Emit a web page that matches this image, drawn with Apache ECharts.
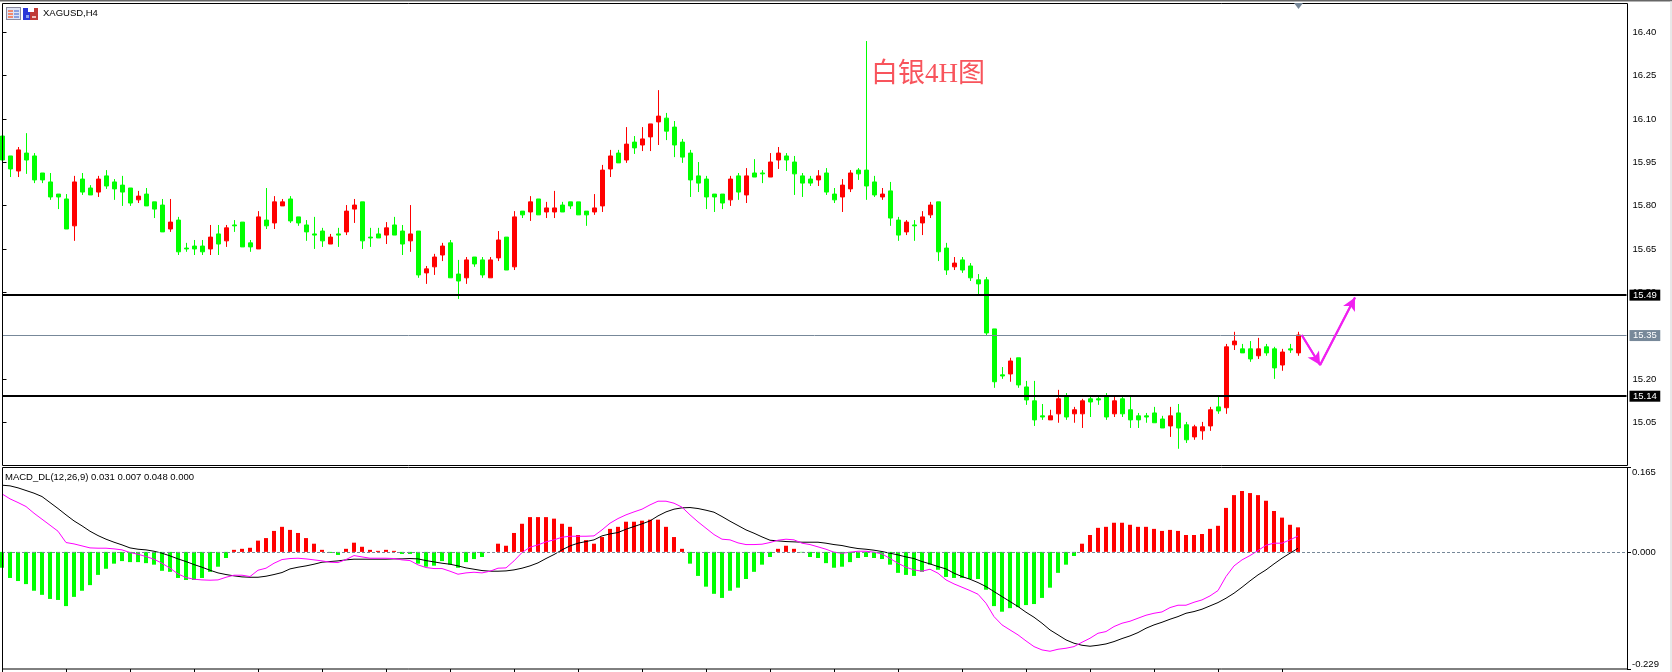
<!DOCTYPE html>
<html>
<head>
<meta charset="utf-8">
<style>html,body{margin:0;padding:0;background:#fff;overflow:hidden}#c{width:1672px;height:672px}</style>
<script src="https://cdn.jsdelivr.net/npm/echarts@6/dist/echarts.min.js"></script>
</head>
<body>
<div id="c"></div>
<script>
// XAGUSD 4-hour candles, oldest first
const opens = [
16.041,15.972,15.920,15.982,15.972,15.913,15.882,15.840,15.823,15.730,
15.892,15.861,15.847,15.903,15.882,15.871,15.861,15.820,15.840,15.813,
15.802,15.719,15.750,15.653,15.660,15.660,15.650,15.702,15.678,15.733,
15.743,15.671,15.650,15.750,15.740,15.799,15.823,15.761,15.733,15.702,
15.712,15.667,15.702,15.709,15.788,15.813,15.691,15.702,15.698,15.733,
15.712,15.678,15.712,15.567,15.588,15.629,15.671,15.563,15.550,15.622,
15.612,15.550,15.619,15.691,15.588,15.781,15.778,15.823,15.778,15.778,
15.802,15.813,15.813,15.781,15.778,15.799,15.927,15.982,15.958,16.020,
16.010,16.038,16.090,16.103,16.072,16.020,15.982,15.903,15.892,15.840,
15.840,15.820,15.903,15.837,15.913,15.913,15.899,15.958,15.972,15.951,
15.903,15.892,15.889,15.913,15.840,15.830,15.858,15.923,15.923,15.882,
15.830,15.851,15.750,15.709,15.733,15.740,15.768,15.813,15.653,15.588,
15.612,15.591,15.543,15.543,15.373,15.214,15.217,15.273,15.172,15.124,
15.072,15.058,15.079,15.138,15.079,15.079,15.131,15.131,15.138,15.079,
15.131,15.093,15.072,15.072,15.082,15.061,15.037,15.082,15.041,14.999,
15.020,15.037,15.103,15.100,15.318,15.304,15.304,15.280,15.311,15.304,
15.248,15.304,15.290];
const closes = [
15.958,15.927,15.993,15.958,15.889,15.889,15.830,15.830,15.719,15.882,
15.847,15.837,15.892,15.868,15.858,15.847,15.809,15.833,15.799,15.788,
15.709,15.743,15.640,15.650,15.650,15.640,15.691,15.667,15.723,15.730,
15.657,15.657,15.761,15.730,15.813,15.813,15.747,15.740,15.709,15.698,
15.678,15.691,15.698,15.781,15.802,15.678,15.688,15.688,15.723,15.698,
15.667,15.702,15.560,15.581,15.622,15.660,15.550,15.539,15.612,15.598,
15.560,15.612,15.681,15.577,15.761,15.768,15.813,15.768,15.792,15.792,
15.778,15.799,15.768,15.768,15.792,15.923,15.972,15.948,16.013,16.000,
16.031,16.083,16.110,16.058,16.010,15.968,15.889,15.878,15.830,15.830,
15.809,15.892,15.847,15.903,15.899,15.910,15.951,15.982,15.958,15.910,
15.878,15.878,15.903,15.847,15.820,15.871,15.913,15.910,15.868,15.837,
15.840,15.757,15.698,15.743,15.730,15.761,15.802,15.640,15.577,15.601,
15.577,15.550,15.529,15.359,15.190,15.210,15.262,15.179,15.127,15.058,
15.068,15.072,15.131,15.068,15.093,15.124,15.120,15.127,15.068,15.124,
15.079,15.058,15.058,15.068,15.048,15.030,15.072,15.030,14.989,15.034,
15.034,15.093,15.089,15.311,15.331,15.290,15.269,15.304,15.290,15.238,
15.293,15.300,15.352];
const highs = [
16.041,15.972,16.003,16.051,15.982,15.913,15.913,15.840,15.840,15.903,
15.913,15.871,15.903,15.923,15.892,15.903,15.861,15.851,15.861,15.813,
15.823,15.823,15.761,15.671,15.681,15.681,15.733,15.733,15.733,15.750,
15.743,15.681,15.781,15.861,15.833,15.823,15.833,15.761,15.750,15.761,
15.723,15.702,15.723,15.802,15.823,15.813,15.723,15.723,15.743,15.761,
15.733,15.802,15.712,15.591,15.633,15.671,15.681,15.612,15.622,15.622,
15.622,15.622,15.712,15.691,15.781,15.781,15.833,15.823,15.813,15.851,
15.813,15.813,15.813,15.781,15.840,15.941,15.993,15.993,16.072,16.041,
16.072,16.083,16.200,16.121,16.093,16.031,15.993,15.951,15.903,15.840,
15.840,15.903,15.913,15.930,15.961,15.923,15.982,16.003,15.982,15.972,
15.913,15.903,15.923,15.930,15.861,15.892,15.923,15.930,16.370,15.903,
15.861,15.882,15.761,15.750,15.750,15.781,15.813,15.813,15.671,15.622,
15.622,15.601,15.563,15.553,15.373,15.241,15.273,15.273,15.193,15.193,
15.113,15.093,15.162,15.151,15.103,15.131,15.138,15.138,15.151,15.141,
15.141,15.141,15.082,15.082,15.103,15.072,15.103,15.113,15.051,15.041,
15.051,15.103,15.138,15.321,15.363,15.321,15.331,15.342,15.321,15.311,
15.304,15.321,15.363];
const lows = [
15.958,15.899,15.899,15.910,15.878,15.878,15.820,15.788,15.719,15.678,
15.837,15.837,15.830,15.858,15.820,15.799,15.799,15.809,15.799,15.757,
15.709,15.709,15.629,15.640,15.629,15.629,15.629,15.629,15.657,15.709,
15.657,15.640,15.650,15.719,15.719,15.799,15.740,15.730,15.678,15.650,
15.657,15.667,15.657,15.698,15.740,15.650,15.657,15.688,15.667,15.698,
15.629,15.640,15.550,15.529,15.560,15.608,15.550,15.477,15.529,15.588,
15.550,15.550,15.608,15.577,15.577,15.757,15.747,15.768,15.757,15.757,
15.778,15.788,15.768,15.730,15.768,15.778,15.899,15.948,15.948,15.979,
15.989,15.989,16.010,16.027,15.968,15.948,15.830,15.847,15.788,15.778,
15.788,15.799,15.820,15.809,15.899,15.878,15.899,15.927,15.920,15.837,
15.830,15.868,15.868,15.837,15.809,15.778,15.847,15.889,15.820,15.830,
15.820,15.730,15.678,15.698,15.678,15.698,15.757,15.608,15.560,15.577,
15.567,15.539,15.491,15.352,15.169,15.200,15.190,15.169,15.110,15.037,
15.058,15.058,15.048,15.058,15.048,15.030,15.068,15.110,15.058,15.068,
15.068,15.030,15.030,15.048,15.048,15.030,14.999,14.958,14.978,14.989,
14.989,15.020,15.079,15.079,15.300,15.290,15.259,15.269,15.280,15.200,
15.228,15.290,15.280];

// MACD indicator: histogram, main line and signal line
const macdHist = [
-.031,-.051,-.057,-.063,-.076,-.084,-.092,-.094,-.106,-.088,
-.076,-.065,-.045,-.033,-.023,-.018,-.020,-.020,-.022,-.025,
-.037,-.039,-.051,-.055,-.055,-.051,-.039,-.029,-.012,.004,
.006,.008,.022,.027,.041,.049,.043,.037,.027,.016,
.004,-.002,-.006,.006,.018,.010,.004,.002,.004,.002,
-.004,-.004,-.023,-.029,-.027,-.018,-.025,-.031,-.020,-.014,
-.010,0,.016,.012,.037,.055,.068,.068,.068,.065,
.055,.049,.033,.023,.016,.029,.045,.049,.059,.059,
.061,.063,.063,.049,.029,.006,-.023,-.047,-.068,-.082,
-.090,-.076,-.070,-.053,-.039,-.025,-.010,.006,.012,.006,
-.001,-.010,-.012,-.022,-.031,-.029,-.020,-.012,-.010,-.012,
-.014,-.025,-.041,-.045,-.047,-.039,-.025,-.035,-.049,-.051,
-.051,-.053,-.053,-.074,-.106,-.117,-.110,-.108,-.104,-.102,
-.090,-.070,-.041,-.025,-.008,.016,.033,.047,.049,.057,
.057,.053,.049,.049,.045,.041,.043,.041,.033,.033,
.035,.045,.051,.086,.111,.119,.115,.111,.100,.080,
.067,.053,.048];
const macdBlack = [
.1304,.1291,.1252,.1200,.1148,.1082,.0965,.0848,.0724,.0606,
.0509,.0404,.0319,.0248,.0189,.0137,.0078,.0052,.0039,.0013,
-.0026,-.0078,-.0137,-.0189,-.0248,-.0300,-.0359,-.0411,-.0443,-.0469,
-.0489,-.0496,-.0496,-.0476,-.0443,-.0404,-.0333,-.0300,-.0274,-.0241,
-.0202,-.0189,-.0176,-.0156,-.0143,-.0143,-.0143,-.0143,-.0143,-.0137,
-.0137,-.0130,-.0137,-.0170,-.0196,-.0222,-.0241,-.0274,-.0313,-.0339,
-.0365,-.0378,-.0378,-.0372,-.0352,-.0319,-.0274,-.0215,-.0130,-.0052,
.0039,.0117,.0170,.0202,.0235,.0313,.0352,.0378,.0443,.0496,
.0548,.0606,.0704,.0782,.0835,.0861,.0867,.0848,.0815,.0776,
.0691,.0600,.0515,.0430,.0365,.0293,.0228,.0215,.0202,.0196,
.0189,.0189,.0189,.0170,.0143,.0124,.0091,.0065,.0052,.0033,
.0007,-.0026,-.0059,-.0098,-.0130,-.0189,-.0235,-.0287,-.0333,-.0417,
-.0482,-.0535,-.0600,-.0678,-.0776,-.0874,-.0971,-.1069,-.1180,-.1278,
-.1395,-.1526,-.1623,-.1721,-.1786,-.1826,-.1845,-.1826,-.1800,-.1754,
-.1695,-.1643,-.1578,-.1493,-.1428,-.1376,-.1317,-.1265,-.1200,-.1167,
-.1121,-.1056,-.0991,-.0906,-.0808,-.0691,-.0567,-.0450,-.0352,-.0235,
-.0124,-.0026,.007];
const macdMagenta = [
.1134,.1037,.0965,.0887,.0756,.0639,.0522,.0404,.0183,.0156,
.0117,.0078,.0072,.0072,.0059,.0039,-.0013,-.0046,-.0091,-.0143,
-.0222,-.0319,-.0430,-.0502,-.0535,-.0548,-.0554,-.0548,-.0496,-.0456,
-.0456,-.0482,-.0359,-.0319,-.0222,-.0150,-.0130,-.0124,-.0137,-.0156,
-.0176,-.0202,-.0209,-.0150,-.0072,-.0098,-.0124,-.0124,-.0124,-.0130,
-.0156,-.0170,-.0254,-.0306,-.0326,-.0326,-.0378,-.0437,-.0411,-.0398,
-.0411,-.0378,-.0319,-.0313,-.0176,-.0013,.0091,.0137,.0196,.0235,
.0287,.0306,.0306,.0306,.0313,.0430,.0561,.0652,.0724,.0782,
.0835,.0919,.0991,.0991,.0952,.0874,.0724,.0587,.0463,.0339,
.0248,.0235,.0176,.0143,.0143,.0150,.0183,.0228,.0248,.0235,
.0170,.0143,.0098,.0052,-.0007,-.0026,-.0007,.0013,.0013,-.0007,
-.0039,-.0130,-.0222,-.0300,-.0352,-.0378,-.0339,-.0417,-.0548,-.0626,
-.0691,-.0756,-.0828,-.1004,-.1265,-.1428,-.1526,-.1623,-.1741,-.1852,
-.1917,-.1943,-.1904,-.1884,-.1852,-.1767,-.1689,-.1591,-.1558,-.1460,
-.1395,-.1356,-.1297,-.1239,-.1200,-.1174,-.1089,-.1043,-.1043,-.0985,
-.0939,-.0861,-.0756,-.0482,-.0274,-.0156,-.0072,.0026,.0130,.0170,
.0170,.0235,.031];

// Axis ticks and the levels marked on the price pane
const priceTicks = [16.40,16.25,16.10,15.95,15.80,15.65,15.50,15.35,15.20,15.05];
const macdTicks = [0.165,0,-0.229];
const resistanceSupport = [15.49,15.14];
const lastPrice = 15.35;

// Forecast path drawn after the last candle: [bar position, price]
const forecastPath = [[162.4,15.352],[164.7,15.248],[169.06,15.482]];

// Chart window holds room for 204 bar slots, the rest is right-hand shift
const barSlots = Array.from({length:204},(_,i)=>String(i));
const candles = opens.map((o,i)=>[o,closes[i],lows[i],highs[i]]);

const UI_FONT = '"Liberation Sans",Arial,sans-serif';
const RED = '#ff0000', GREEN = '#00ff00', SLATE = '#778899';

const rect = (x,y,w,h,fill) => ({type:'rect',silent:true,shape:{x,y,width:w,height:h},style:{fill}});

const chart = echarts.init(document.getElementById('c'),null,{renderer:'canvas'});
chart.setOption({
  animation:false,
  backgroundColor:'#fff',
  grid:[
    {left:2.5,top:3.5,width:1624,height:462,containLabel:false,outerBoundsMode:'none'},
    {left:2,top:467.5,width:1624,height:201.5,containLabel:false,outerBoundsMode:'none'}
  ],
  xAxis:[
    {type:'category',gridIndex:0,data:barSlots,boundaryGap:false,
     axisLine:{show:false,onZero:false},axisTick:{show:false},axisLabel:{show:false},splitLine:{show:false}},
    {type:'category',gridIndex:1,data:barSlots,boundaryGap:false,position:'bottom',
     axisLine:{show:false,onZero:false},axisLabel:{show:false},splitLine:{show:false},
     axisTick:{show:true,length:3,interval:i=>i%8===0&&i<=160,lineStyle:{color:'#000',width:1}}},
    {type:'value',gridIndex:0,min:0,max:203,show:false,splitLine:{show:false}}
  ],
  yAxis:[
    {type:'value',gridIndex:0,position:'right',offset:1,min:14.9,max:16.5,
     splitLine:{show:false},axisLine:{show:false},
     axisTick:{show:true,length:4,customValues:priceTicks,lineStyle:{color:'#000'}},
     axisLabel:{show:true,customValues:priceTicks,margin:5,color:'#000',
       fontFamily:UI_FONT,fontSize:9.5,formatter:v=>v.toFixed(2)}},
    {type:'value',gridIndex:1,position:'right',offset:1,min:-0.229,max:0.165,
     splitLine:{show:false},axisLine:{show:false},
     axisTick:{show:true,length:4,customValues:macdTicks,lineStyle:{color:'#000'}},
     axisLabel:{show:true,customValues:macdTicks,margin:5,color:'#000',
       fontFamily:UI_FONT,fontSize:9.5,formatter:v=>v.toFixed(3),
       verticalAlignMaxLabel:'bottom',verticalAlignMinLabel:'top'}}
  ],
  series:[
    {type:'candlestick',name:'XAGUSD',xAxisIndex:0,yAxisIndex:0,data:candles,barWidth:4,clip:true,silent:true,
     itemStyle:{color:RED,color0:GREEN,borderColor:RED,borderColor0:GREEN,borderWidth:1},
     markLine:{silent:true,symbol:'none',animation:false,
       data:[
         ...resistanceSupport.map(v=>({yAxis:v,lineStyle:{color:'#000',width:2,type:'solid'},
           label:{backgroundColor:'#000',color:'#fff'}})),
         {yAxis:lastPrice,lineStyle:{color:SLATE,width:1,type:'solid'},
           label:{backgroundColor:SLATE,color:'#fff'}}
       ],
       label:{show:true,position:'end',distance:3,padding:[1,3.5,0,3.5],fontFamily:UI_FONT,fontSize:9.5,
         formatter:p=>p.value.toFixed(2)}}},
    {type:'line',name:'Forecast',xAxisIndex:2,yAxisIndex:0,data:forecastPath,symbol:'none',silent:true,clip:false,z:5,
     lineStyle:{color:'#f020f0',width:2},
     markLine:{silent:true,animation:false,symbol:['none','arrow'],symbolSize:[10,13],
       lineStyle:{color:'#f020f0',width:2,type:'solid'},label:{show:false},
       data:[
         [{coord:forecastPath[0]},{coord:forecastPath[1]}],
         [{coord:forecastPath[1]},{coord:forecastPath[2]}]
       ]}},
    {type:'bar',name:'MACD histogram',xAxisIndex:1,yAxisIndex:1,data:macdHist,barWidth:4,clip:true,silent:true,
     itemStyle:{color:p=>p.value>=0?RED:GREEN},
     markLine:{silent:true,symbol:'none',animation:false,label:{show:false},
       lineStyle:{color:SLATE,width:1,type:[3,2]},data:[{yAxis:0}]}},
    {type:'line',name:'Signal',xAxisIndex:1,yAxisIndex:1,data:macdBlack,symbol:'none',silent:true,z:4,
     lineStyle:{color:'#000',width:1}},
    {type:'line',name:'MACD',xAxisIndex:1,yAxisIndex:1,data:macdMagenta,symbol:'none',silent:true,z:4,
     lineStyle:{color:'#ff00ff',width:1}}
  ],
  graphic:[
    // terminal window chrome
    rect(0,0,1672,1.5,'#666666'),
    rect(1670,1.5,2,670.5,'#e8e8e8'),
    {type:'rect',silent:true,z:10,shape:{x:2.5,y:3.5,width:1625,height:462},style:{fill:null,stroke:'#000',lineWidth:1}},
    {type:'rect',silent:true,z:10,shape:{x:2.5,y:467.5,width:1625,height:201.5},style:{fill:null,stroke:'#000',lineWidth:1}},
    {type:'polygon',silent:true,z:11,shape:{points:[[1294,3],[1303,3],[1298.5,9]]},style:{fill:SLATE}},
    // toolbar icons next to the symbol name
    rect(6,7,15,13,'#8a8aa0'),
    rect(7,8,13,11,'#dfe4f5'),
    rect(8,10,5,2,'#f08a70'),rect(8,13,5,2,'#f08a70'),rect(8,16,5,2,'#f08a70'),
    rect(14,10,5,2,'#8aa0e0'),rect(14,13,5,2,'#8aa0e0'),rect(14,16,5,2,'#8aa0e0'),
    rect(23,8,7,12,'#2a36d8'),rect(30,8,8,12,'#c03a34'),
    rect(28,8,6,4,'#ffffff'),rect(26,15,3,3,'#8aa0f0'),rect(32,16,4,2,'#f0c0b8'),
    // pane captions
    {type:'text',silent:true,z:12,style:{x:43,y:13,text:'XAGUSD,H4',fill:'#000',font:'9.5px '+UI_FONT,textVerticalAlign:'middle'}},
    {type:'text',silent:true,z:12,style:{x:5,y:477,text:'MACD_DL(12,26,9) 0.031 0.007 0.048 0.000',fill:'#000',font:'9.5px '+UI_FONT,textVerticalAlign:'middle'}},
    {type:'text',silent:true,z:12,style:{x:871,y:75,text:'白银4H图',fill:'#f8545c',font:'27px "Liberation Serif","Noto Sans CJK SC",serif',textVerticalAlign:'middle'}}
  ]
});
</script>
</body>
</html>
